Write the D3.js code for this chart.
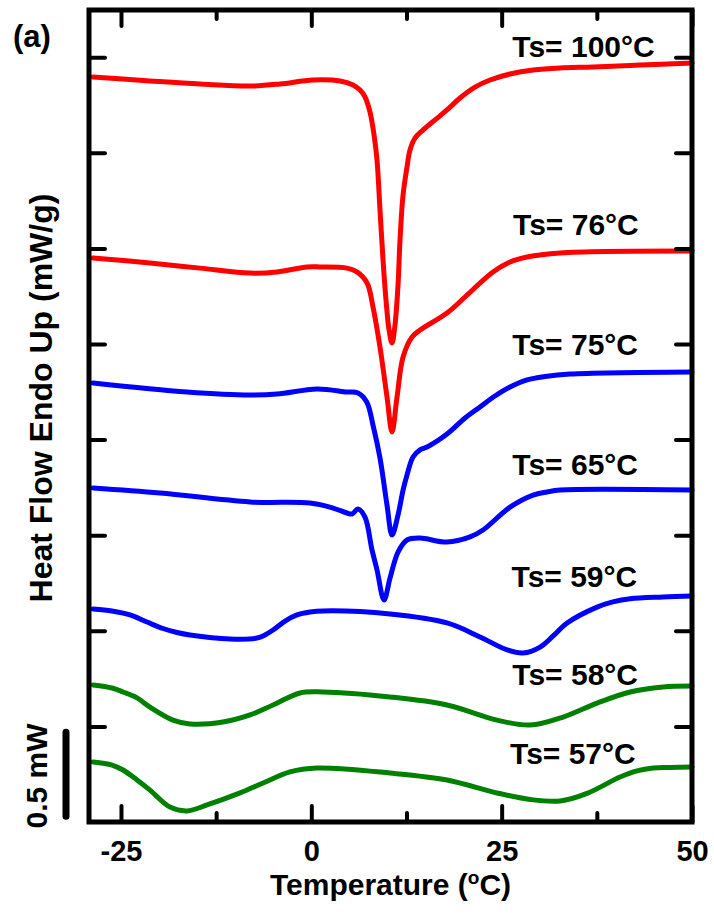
<!DOCTYPE html>
<html>
<head>
<meta charset="utf-8">
<script src="https://cdn.jsdelivr.net/npm/d3@7/dist/d3.min.js"></script>
<style>
  html, body { margin: 0; padding: 0; background: #fff; }
  svg { display: block; }
  text { font-family: "Liberation Sans", Arial, sans-serif; font-weight: bold; fill: #000; }
</style>
</head>
<body>
<svg id="chart" width="714" height="918"></svg>
<script>
// ---------------- data (Temperature °C, Heat flow mW/g, offset stacked) ----------------
const xTickValues = [-25, 0, 25, 50];
const xMinorTickValues = [-12.5, 12.5, 37.5];
const yTickValues = [0.5, 1.0, 1.5, 2.0, 2.5, 3.0, 3.5, 4.0];
const seriesNames = ["Ts= 100°C", "Ts= 76°C", "Ts= 75°C", "Ts= 65°C", "Ts= 59°C", "Ts= 58°C", "Ts= 57°C"];

const ts100 = [[-28.67,3.896],[-21.19,3.876],[-14.62,3.860],[-8.05,3.849],[-4.11,3.860],[0.22,3.881],[3.77,3.876],[5.48,3.855],[6.40,3.828],[7.05,3.792],[7.71,3.713],[8.24,3.593],[8.63,3.462],[9.02,3.201],[9.42,2.939],[9.81,2.730],[10.21,2.573],[10.60,2.505],[10.99,2.599],[11.39,2.809],[11.65,3.044],[12.05,3.279],[12.57,3.426],[12.96,3.515],[13.62,3.577],[14.67,3.619],[16.25,3.672],[17.82,3.724],[19.53,3.787],[21.50,3.844],[23.47,3.881],[26.10,3.912],[29.13,3.933],[32.68,3.944],[37.01,3.949],[43.18,3.959],[50.0,3.970]];
const ts76 = [[-28.67,2.950],[-21.19,2.924],[-14.62,2.897],[-8.05,2.871],[-4.50,2.877],[-0.56,2.903],[1.14,2.903],[4.69,2.897],[6.00,2.877],[7.32,2.819],[8.10,2.694],[9.02,2.484],[9.94,2.223],[10.60,2.040],[11.26,2.223],[12.05,2.432],[13.23,2.537],[14.28,2.573],[17.82,2.662],[20.19,2.746],[22.16,2.819],[23.87,2.877],[26.10,2.929],[28.34,2.955],[32.68,2.976],[50.0,2.986]];
const ts75 = [[-28.67,2.296],[-16.33,2.249],[-8.05,2.233],[-4.50,2.238],[0.75,2.265],[4.69,2.249],[6.13,2.244],[7.28,2.197],[8.10,2.076],[9.02,1.904],[9.94,1.658],[10.60,1.501],[11.39,1.606],[12.05,1.736],[12.57,1.815],[13.36,1.909],[14.28,1.946],[15.20,1.961],[17.82,2.029],[20.19,2.113],[22.16,2.171],[24.12,2.228],[26.10,2.275],[28.34,2.312],[30.71,2.330],[33.99,2.343],[50.0,2.354]];
const ts65 = [[-28.67,1.747],[-19.87,1.721],[-8.05,1.674],[-0.17,1.668],[2.85,1.642],[4.69,1.616],[5.35,1.611],[6.13,1.637],[7.05,1.595],[7.97,1.423],[8.63,1.318],[9.55,1.161],[10.34,1.276],[11.39,1.412],[12.57,1.475],[14.28,1.485],[17.82,1.464],[20.85,1.491],[22.55,1.527],[26.10,1.647],[29.13,1.710],[30.96,1.726],[32.68,1.736],[50.0,1.736]];
const ts59 = [[-28.67,1.114],[-26.17,1.104],[-23.81,1.083],[-21.58,1.046],[-19.48,1.012],[-17.64,0.991],[-15.94,0.978],[-10.68,0.957],[-7.13,0.962],[-6.09,0.978],[-5.03,1.004],[-3.45,1.051],[-1.88,1.083],[-0.17,1.098],[1.54,1.104],[10.34,1.088],[17.82,1.041],[22.16,0.968],[25.71,0.900],[27.81,0.884],[30.05,0.915],[31.76,0.973],[33.60,1.041],[37.53,1.124],[39.60,1.151],[41.87,1.168],[46.19,1.177],[50.0,1.182]];
const ts58 = [[-28.67,0.717],[-26.17,0.701],[-24.73,0.680],[-22.89,0.649],[-21.19,0.601],[-18.17,0.533],[-15.94,0.513],[-11.60,0.523],[-8.05,0.560],[-5.03,0.612],[-1.48,0.675],[1.54,0.680],[10.34,0.654],[17.82,0.612],[24.39,0.533],[28.73,0.507],[33.07,0.549],[37.53,0.622],[41.87,0.680],[46.19,0.706],[50.0,0.711]];
const ts57 = [[-28.67,0.314],[-26.17,0.298],[-24.73,0.272],[-22.89,0.220],[-21.19,0.167],[-18.56,0.078],[-16.33,0.058],[-13.70,0.089],[-9.36,0.152],[-6.34,0.204],[-2.80,0.262],[0.75,0.282],[10.34,0.256],[17.82,0.220],[24.39,0.152],[28.73,0.118],[32.68,0.110],[36.22,0.150],[40.55,0.235],[42.78,0.267],[44.89,0.282],[47.12,0.285],[50.0,0.288]];
const scaleBarLabel = "0.5 mW";

// ---------------- layout / style ----------------
const seriesData = [ts100, ts76, ts75, ts65, ts59, ts58, ts57];
const seriesColors = ["#ff0000", "#ff0000", "#0000ff", "#0000ff", "#0000ff", "#008000", "#008000"];
const labelPos = [[26.4, 4.001], [26.5, 3.070], [26.4, 2.442], [26.4, 1.815], [26.3, 1.229], [26.4, 0.717], [26.1, 0.303]];

const pLeft = 89, pRight = 692, pTop = 10, pBottom = 822;
const svg = d3.select("#chart");

const x = d3.scaleLinear().domain([-29.2, 50]).range([pLeft, pRight]);
const y = d3.scaleLinear().domain([0, 4.247]).range([pBottom, pTop]);

// ---------------- curves ----------------
const line = d3.line()
  .x(d => x(d[0]))
  .y(d => y(d[1]))
  .curve(d3.curveCatmullRom.alpha(0.5));

svg.append("g").selectAll("path")
  .data(seriesData)
  .join("path")
  .attr("d", line)
  .attr("fill", "none")
  .attr("stroke", (d, i) => seriesColors[i])
  .attr("stroke-width", 5)
  .attr("stroke-linejoin", "round")
  .attr("stroke-linecap", "round");

// ---------------- axes ----------------
function styleTicks(g, w) {
  g.select(".domain").remove();
  g.selectAll(".tick line").attr("stroke", "#000").attr("stroke-width", w).attr("stroke-linecap", "round");
}
const gB = svg.append("g").attr("transform", `translate(0,${pBottom})`)
  .call(d3.axisBottom(x).tickValues(xTickValues).tickSizeInner(-16).tickSizeOuter(0).tickFormat(d => String(d)));
styleTicks(gB, 4);
gB.selectAll(".tick text").attr("y", 39).attr("dy", null).attr("font-size", 29).attr("fill", "#000")
  .style("font-family", '"Liberation Sans", Arial, sans-serif').style("font-weight", "bold");
const gBm = svg.append("g").attr("transform", `translate(0,${pBottom})`)
  .call(d3.axisBottom(x).tickValues(xMinorTickValues).tickSizeInner(-9).tickSizeOuter(0).tickFormat(""));
styleTicks(gBm, 4);
const gT = svg.append("g").attr("transform", `translate(0,${pTop})`)
  .call(d3.axisTop(x).tickValues(xTickValues).tickSizeInner(-16).tickSizeOuter(0).tickFormat(""));
styleTicks(gT, 4);
const gTm = svg.append("g").attr("transform", `translate(0,${pTop})`)
  .call(d3.axisTop(x).tickValues(xMinorTickValues).tickSizeInner(-9).tickSizeOuter(0).tickFormat(""));
styleTicks(gTm, 4);
const gL = svg.append("g").attr("transform", `translate(${pLeft},0)`)
  .call(d3.axisLeft(y).tickValues(yTickValues).tickSizeInner(-16).tickSizeOuter(0).tickFormat(""));
styleTicks(gL, 4);
const gR = svg.append("g").attr("transform", `translate(${pRight},0)`)
  .call(d3.axisRight(y).tickValues(yTickValues).tickSizeInner(-16).tickSizeOuter(0).tickFormat(""));
styleTicks(gR, 4);

svg.append("rect")
  .attr("x", pLeft).attr("y", pTop)
  .attr("width", pRight - pLeft).attr("height", pBottom - pTop)
  .attr("fill", "none").attr("stroke", "#000").attr("stroke-width", 5);

// ---------------- series labels ----------------
svg.append("g").selectAll("text")
  .data(seriesNames)
  .join("text")
  .attr("x", (d, i) => x(labelPos[i][0]))
  .attr("y", (d, i) => y(labelPos[i][1]))
  .attr("font-size", 30)
  .attr("text-anchor", "start")
  .text(d => d);

// ---------------- axis titles ----------------
const xt = svg.append("text")
  .attr("x", (pLeft + pRight) / 2).attr("y", 895)
  .attr("text-anchor", "middle").attr("font-size", 30);
xt.append("tspan").text("Temperature (");
xt.append("tspan").attr("font-size", 19).attr("dy", -11).text("o");
xt.append("tspan").attr("dy", 11).text("C)");

svg.append("text")
  .attr("transform", "translate(52,398) rotate(-90)")
  .attr("text-anchor", "middle").attr("font-size", 32)
  .text("Heat Flow Endo Up (mW/g)");

svg.append("text")
  .attr("x", 13).attr("y", 47).attr("font-size", 31)
  .text("(a)");

// ---------------- scale bar ----------------
svg.append("line")
  .attr("x1", 66).attr("x2", 66)
  .attr("y1", y(0.03)).attr("y2", y(0.47))
  .attr("stroke", "#000").attr("stroke-width", 7).attr("stroke-linecap", "round");
svg.append("text")
  .attr("transform", "translate(47,776) rotate(-90)")
  .attr("text-anchor", "middle").attr("font-size", 30)
  .text(scaleBarLabel);
</script>
</body>
</html>
